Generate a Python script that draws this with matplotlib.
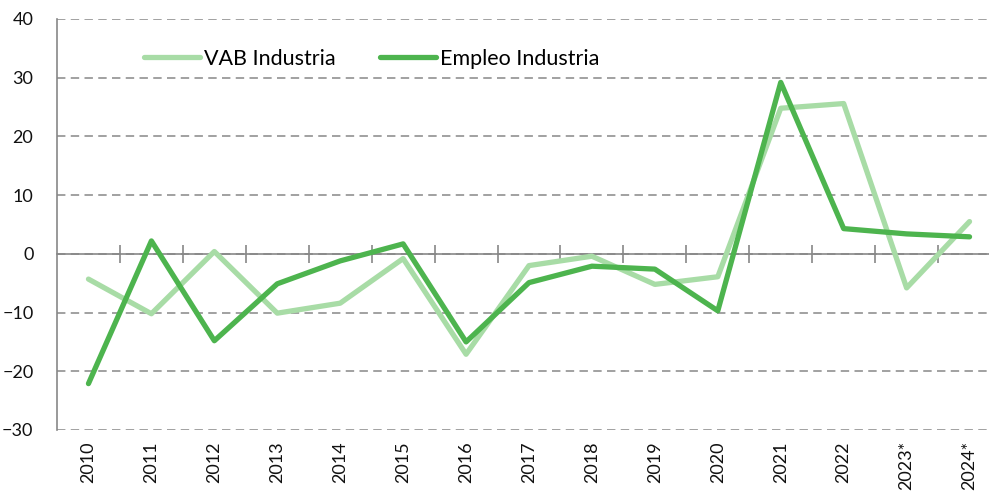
import numpy as np
from matplotlib import pyplot as plt

# Variacion anual (%) del VAB y del empleo en la industria
anios = ['2010', '2011', '2012', '2013', '2014', '2015', '2016', '2017',
         '2018', '2019', '2020', '2021', '2022', '2023*', '2024*']
vab_industria = [-4.3, -10.2, 0.4, -10.1, -8.4, -0.8, -17.1, -2.0,
                 -0.4, -5.2, -3.9, 24.8, 25.6, -5.8, 5.5]
empleo_industria = [-22.1, 2.2, -14.8, -5.1, -1.2, 1.7, -15.0, -4.9,
                    -2.1, -2.6, -9.7, 29.2, 4.3, 3.4, 2.9]

plt.rcParams['font.family'] = ['Lato', 'DejaVu Sans']
gris = '#878787'

fig = plt.figure(figsize=(9.89, 4.98), dpi=100)
ax = fig.add_axes([57/989, 1 - 430/498, (1001 - 57)/989, (430 - 19)/498])

x = np.arange(len(anios))
ax.plot(x, vab_industria, color='#A8DCA6', lw=3.8, solid_capstyle='round',
        label='VAB Industria', zorder=3)
ax.plot(x, empleo_industria, color='#4DB44E', lw=3.8, solid_capstyle='round',
        label='Empleo Industria', zorder=4)

ax.set_xlim(-0.5, len(anios) - 0.5)
ax.set_ylim(-30, 40)
ax.set_yticks(np.arange(-30, 41, 10))
ax.yaxis.grid(True, color=gris, lw=1.1, linestyle=(0, (5.5, 3.5)))
ax.set_axisbelow(True)

for s in ['top', 'right', 'bottom']:
    ax.spines[s].set_visible(False)
ax.spines['left'].set_color(gris)
ax.spines['left'].set_linewidth(1.2)

ax.tick_params(axis='y', length=0, pad=17, labelsize=13, labelcolor='#111111')
ax.set_xticks(x)
ax.set_xticklabels(anios, rotation=90)
ax.tick_params(axis='x', length=0, pad=8, labelsize=13, labelcolor='#111111')

# eje horizontal en cero con marcas entre categorias
eje0 = ax.secondary_xaxis(0, transform=ax.transData)
eje0.spines['bottom'].set_color(gris)
eje0.spines['bottom'].set_linewidth(1.2)
eje0.set_xticks(np.arange(0.5, len(anios) - 1, 1.0))
eje0.tick_params(axis='x', direction='inout', length=13, width=1.2,
                 color=gris, labelbottom=False)

ax.legend(loc='upper left', bbox_to_anchor=(0.072, 0.975), ncol=2, frameon=False,
          fontsize=15.5, handlelength=2.6, handletextpad=0.15, columnspacing=2.1)

fig.savefig('out.png', dpi=100)
